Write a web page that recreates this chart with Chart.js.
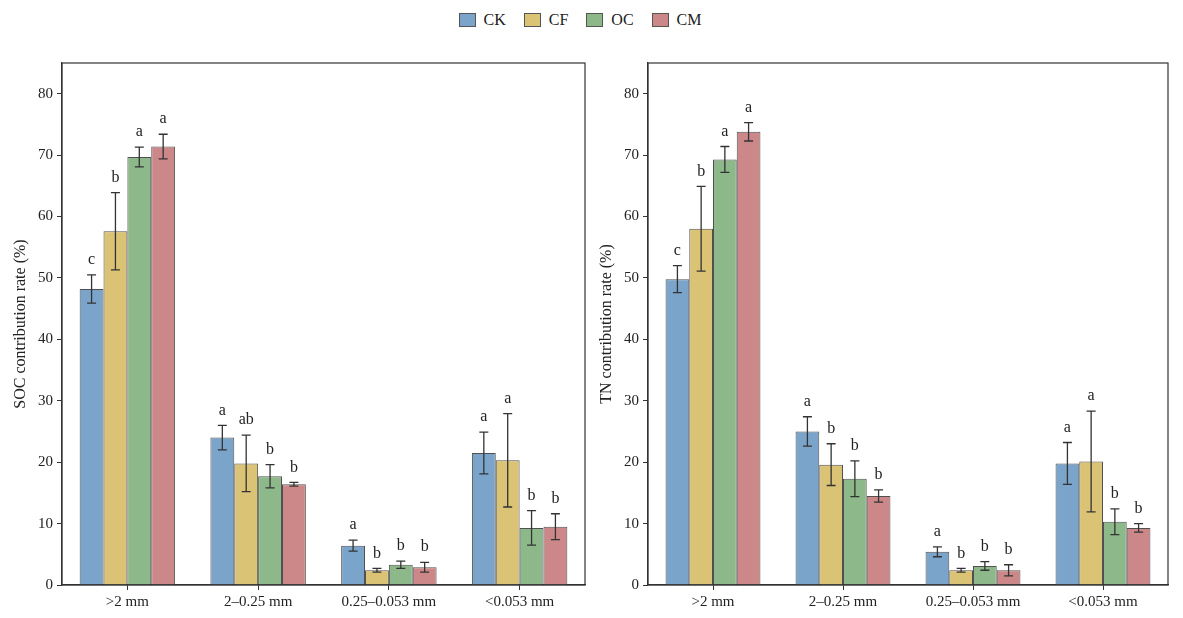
<!DOCTYPE html>
<html>
<head>
<meta charset="utf-8">
<script src="https://cdn.jsdelivr.net/npm/chart.js@4/dist/chart.umd.min.js"></script>
<style>
    body { margin: 0; background: #fff; width: 1183px; height: 618px; position: relative; overflow: hidden; font-family: "Liberation Serif", serif; }
    #legend { position: absolute; top: 11px; left: 0; width: 1160px; display: flex; justify-content: center; font-size: 16px; color: #222; }
    #legend span.item { display: flex; align-items: center; margin: 0 9px; }
    #legend span.box { width: 15px; height: 12px; border: 1px solid #555; margin-right: 8px; display: inline-block; }
    .wrap { position: absolute; top: 40px; height: 578px; }
</style>
</head>
<body>
<div id="legend"></div>
<div class="wrap" style="left:0;width:600px"><canvas id="chart_soc"></canvas></div>
<div class="wrap" style="left:590px;width:593px"><canvas id="chart_tn"></canvas></div>
<script>
const categories = ['>2 mm', '2\u20130.25 mm', '0.25\u20130.053 mm', '<0.053 mm'];
const treatments = ['CK', 'CF', 'OC', 'CM'];
const fillColors = ['#7ba4ca', '#dbc376', '#8db88a', '#cc8888'];
const yTicks = [0, 10, 20, 30, 40, 50, 60, 70, 80];

// rows = treatment (CK, CF, OC, CM), columns = category
const socMeans = [
    [48.2, 24.0, 6.4, 21.5],
    [57.6, 19.8, 2.4, 20.3],
    [69.7, 17.7, 3.3, 9.3],
    [71.4, 16.4, 2.9, 9.5]
];
const socErrs = [
    [2.3, 2.0, 0.9, 3.4],
    [6.3, 4.6, 0.3, 7.6],
    [1.6, 1.9, 0.6, 2.8],
    [2.0, 0.3, 0.8, 2.1]
];
const socLetters = [
    ['c', 'a', 'a', 'a'],
    ['b', 'ab', 'b', 'a'],
    ['a', 'b', 'b', 'b'],
    ['a', 'b', 'b', 'b']
];

const tnMeans = [
    [49.8, 25.0, 5.4, 19.8],
    [58.0, 19.6, 2.4, 20.1],
    [69.3, 17.3, 3.1, 10.3],
    [73.8, 14.5, 2.4, 9.3]
];
const tnErrs = [
    [2.2, 2.4, 0.8, 3.4],
    [6.9, 3.4, 0.3, 8.2],
    [2.1, 2.9, 0.7, 2.1],
    [1.5, 1.0, 0.9, 0.7]
];
const tnLetters = [
    ['c', 'a', 'a', 'a'],
    ['b', 'b', 'b', 'a'],
    ['a', 'b', 'b', 'b'],
    ['a', 'b', 'b', 'b']
];

// legend
const legend = document.getElementById('legend');
treatments.forEach(function(t, i) {
    const item = document.createElement('span');
    item.className = 'item';
    item.innerHTML = '<span class="box" style="background:' + fillColors[i] + '"></span>' + t;
    legend.appendChild(item);
});

const FONT = '"Liberation Serif", serif';

// error bars, letters and the box frame
const errorBarPlugin = {
    id: 'errorBars',
    afterDatasetsDraw: function(chart) {
        const ctx = chart.ctx;
        const y = chart.scales.y;
        const errs = chart.options.plugins.errorBars.errs;
        const letters = chart.options.plugins.errorBars.letters;
        ctx.save();
        chart.data.datasets.forEach(function(ds, i) {
            const meta = chart.getDatasetMeta(i);
            meta.data.forEach(function(bar, j) {
                const v = ds.data[j];
                const e = errs[i][j];
                const yTop = y.getPixelForValue(v + e);
                const yBot = y.getPixelForValue(v - e);
                ctx.strokeStyle = '#333';
                ctx.lineWidth = 1.3;
                ctx.beginPath();
                ctx.moveTo(bar.x, yTop); ctx.lineTo(bar.x, yBot);
                ctx.moveTo(bar.x - 4.5, yTop); ctx.lineTo(bar.x + 4.5, yTop);
                ctx.moveTo(bar.x - 4.5, yBot); ctx.lineTo(bar.x + 4.5, yBot);
                ctx.stroke();
                ctx.fillStyle = '#222';
                ctx.font = '16px ' + FONT;
                ctx.textAlign = 'center';
                ctx.textBaseline = 'bottom';
                ctx.fillText(letters[i][j], bar.x, yTop - 7);
            });
        });
        const a = chart.chartArea;
        ctx.strokeStyle = '#333';
        ctx.lineWidth = 1.2;
        ctx.strokeRect(a.left, a.top, a.right - a.left, a.bottom - a.top);
        ctx.restore();
    }
};

function makeChart(id, means, errs, letters, title, padLeft, yWidth) {
    const data = {
        labels: categories,
        datasets: treatments.map(function(t, i) {
            return {
                label: t,
                data: means[i],
                backgroundColor: fillColors[i],
                borderColor: '#505050',
                borderWidth: 1,
                categoryPercentage: 0.73,
                barPercentage: 1.0
            };
        })
    };

    const config = {
        type: 'bar',
        data: data,
        plugins: [errorBarPlugin],
        options: {
            responsive: true,
            maintainAspectRatio: false,
            animation: false,
            layout: { padding: { top: 23, right: 15, left: padLeft, bottom: 0 } },
            plugins: {
                legend: { display: false },
                tooltip: { enabled: false },
                errorBars: { errs: errs, letters: letters }
            },
            scales: {
                x: {
                    grid: { display: true, drawOnChartArea: false, drawTicks: true, tickLength: 5, color: '#333', offset: false },
                    border: { color: '#333', width: 1.2 },
                    ticks: { color: '#222', font: { family: FONT, size: 15 }, padding: 3, maxRotation: 0 },
                    afterFit: function(scale) { scale.height = 33; }
                },
                y: {
                    min: 0,
                    max: 85,
                    grid: { display: true, drawOnChartArea: false, drawTicks: true, tickLength: 5, color: '#333' },
                    border: { color: '#333', width: 1.2 },
                    ticks: { color: '#222', font: { family: FONT, size: 15 }, padding: 4 },
                    afterBuildTicks: function(scale) {
                        scale.ticks = yTicks.map(function(v) { return { value: v }; });
                    },
                    title: { display: true, text: title, color: '#222', font: { family: FONT, size: 16 }, padding: 2 },
                    afterFit: function(scale) { scale.width = yWidth; }
                }
            }
        }
    };

    return new Chart(document.getElementById(id), config);
}

makeChart('chart_soc', socMeans, socErrs, socLetters, 'SOC contribution rate (%)', 9, 53);
makeChart('chart_tn', tnMeans, tnErrs, tnLetters, 'TN contribution rate (%)', 5, 53);
</script>
</body>
</html>
